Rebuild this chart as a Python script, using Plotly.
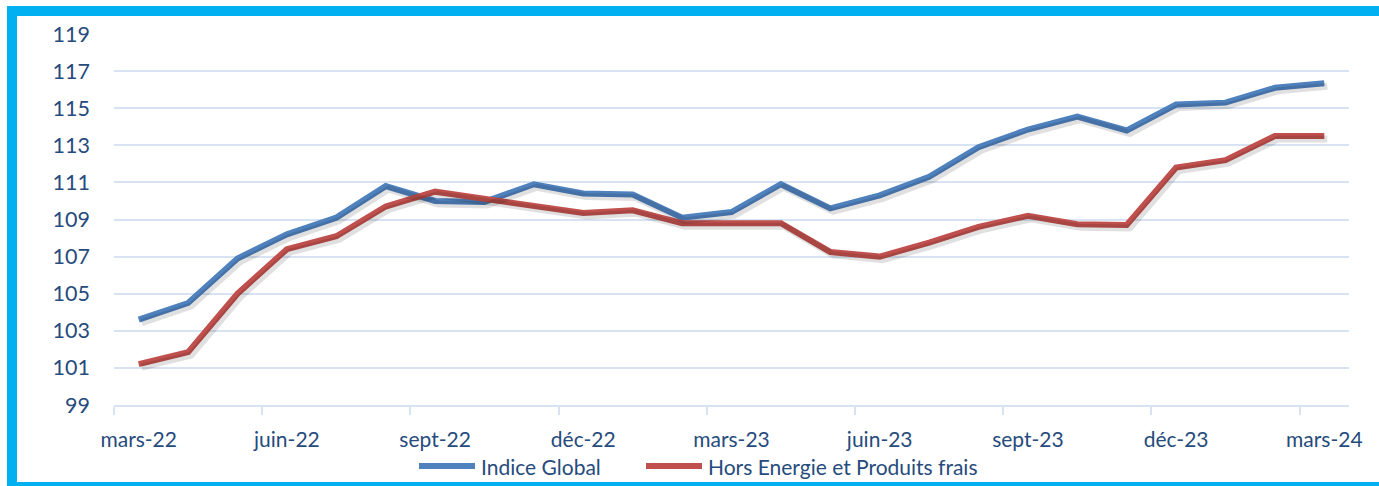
import plotly.graph_objects as go

months = ["mars-22", "avr-22", "mai-22", "juin-22", "juil-22", "août-22", "sept-22", "oct-22",
          "nov-22", "déc-22", "janv-23", "févr-23", "mars-23", "avr-23", "mai-23", "juin-23",
          "juil-23", "août-23", "sept-23", "oct-23", "nov-23", "déc-23", "janv-24", "févr-24", "mars-24"]

indice_global = [103.6, 104.5, 106.9, 108.2, 109.1, 110.8, 110.0, 109.95, 110.9, 110.4, 110.35, 109.1,
                 109.4, 110.9, 109.6, 110.3, 111.3, 112.9, 113.85, 114.55, 113.8, 115.2, 115.3, 116.1, 116.35]

hors_energie = [101.2, 101.85, 105.0, 107.4, 108.1, 109.7, 110.5, 110.1, 109.75, 109.35, 109.5, 108.8,
                108.8, 108.8, 107.25, 107.0, 107.75, 108.6, 109.2, 108.75, 108.7, 111.8, 112.2, 113.5, 113.5]

series_names = ["Indice Global", "Hors Energie et Produits frais"]
series_colors = ["#4f81bd", "#c0504d"]

tick_idx = list(range(0, len(months), 3))
tick_text = [months[i] for i in tick_idx]
y_ticks = list(range(99, 120, 2))

W, H = 1379, 486
L, R, T, B = 114, 30, 34, 81
pw, ph = W - L - R, H - T - B
x_range = [-0.5, len(months) - 0.5]
y_range = [99, 119]
px_per_x = pw / (x_range[1] - x_range[0])
px_per_y = ph / (y_range[1] - y_range[0])

xs = list(range(len(months)))
fig = go.Figure()

# soft shadow traces on offset overlay axes
sh = 3
for vals in [indice_global, hors_energie]:
    fig.add_trace(go.Scatter(x=xs, y=vals, mode="lines", xaxis="x2", yaxis="y2",
                             line=dict(color="rgba(0,0,0,0.12)", width=7), showlegend=False,
                             hoverinfo="skip"))

for vals, name, col in zip([indice_global, hors_energie], series_names, series_colors):
    fig.add_trace(go.Scatter(x=xs, y=vals, mode="lines", name=name, showlegend=False,
                             line=dict(color=col, width=6)))

grid_col = "#d7e2f2"
txt_col = "#264b7c"
font_fam = "Lato, 'Noto Sans', sans-serif"

def px2paper_x(px):
    return (px - L) / pw

def px2paper_y(py):
    return (H - B - py) / ph

# custom legend (Excel style long line samples)
legend_y = px2paper_y(466)
legend_items = [(419, 475, 479), (646, 702, 706)]
shapes = []
annotations = []
for (x0, x1, xt), name, col in zip(legend_items, series_names, series_colors):
    shapes.append(dict(type="line", xref="paper", yref="paper", x0=px2paper_x(x0), x1=px2paper_x(x1),
                       y0=legend_y, y1=legend_y, line=dict(color=col, width=6)))
    annotations.append(dict(xref="paper", yref="paper", x=px2paper_x(xt), y=legend_y, text=name,
                            showarrow=False, xanchor="left", yanchor="middle",
                            font=dict(size=21, color=txt_col, family=font_fam)))

shapes.append(dict(type="rect", xref="paper", yref="paper",
                   x0=px2paper_x(12), x1=px2paper_x(W + 20),
                   y0=px2paper_y(H + 1), y1=px2paper_y(11),
                   line=dict(color="#00b0f0", width=10), fillcolor="rgba(0,0,0,0)", layer="above"))

fig.update_layout(
    width=W, height=H,
    margin=dict(l=L, r=R, t=T, b=B),
    paper_bgcolor="white", plot_bgcolor="white",
    font=dict(family=font_fam, color=txt_col, size=21),
    xaxis=dict(range=x_range, tickmode="array", tickvals=tick_idx, ticktext=tick_text,
               showgrid=False, zeroline=False, showline=True, linecolor=grid_col, linewidth=2,
               ticks="", ticklabelstandoff=15,
               tickfont=dict(size=21, color=txt_col, family=font_fam),
               minor=dict(tick0=-0.5, dtick=3, ticks="outside", ticklen=8, tickwidth=2,
                          tickcolor=grid_col, showgrid=False)),
    yaxis=dict(range=y_range, tickmode="array", tickvals=y_ticks, showgrid=True,
               gridcolor=grid_col, gridwidth=2, zeroline=False, showline=False,
               ticks="", ticklabelstandoff=23,
               tickfont=dict(size=21.5, color=txt_col, family=font_fam)),
    xaxis2=dict(range=[x_range[0] - sh / px_per_x, x_range[1] - sh / px_per_x], overlaying="x",
                visible=False),
    yaxis2=dict(range=[y_range[0] + sh / px_per_y, y_range[1] + sh / px_per_y], overlaying="y",
                visible=False),
    showlegend=False,
    shapes=shapes,
    annotations=annotations,
)

fig.write_html("out.html", config={"displayModeBar": False},
               post_script="document.body.style.margin='0';document.body.style.overflow='hidden';")
